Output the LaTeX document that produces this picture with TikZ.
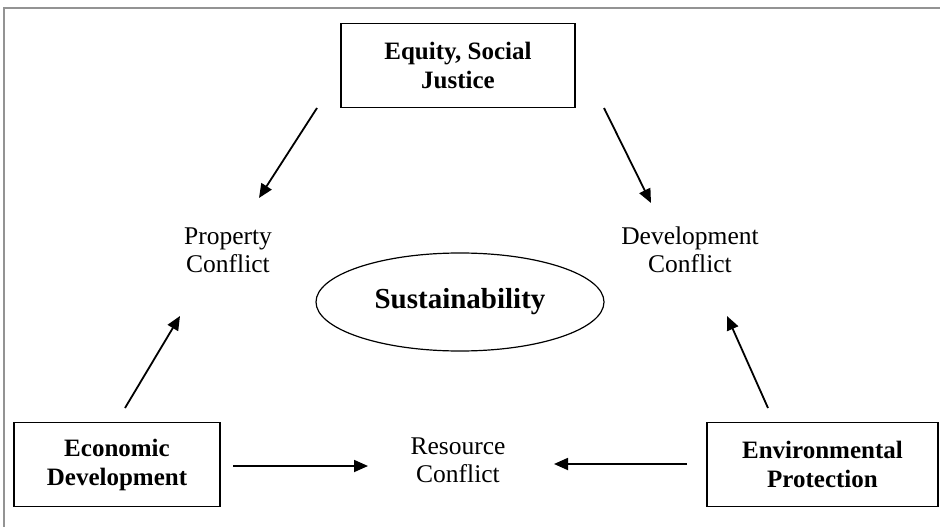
\documentclass[tikz,border=0pt]{standalone}
\usepackage{fontspec}
\setmainfont{Liberation Serif}
\usetikzlibrary{arrows.meta,shapes.geometric}
\begin{document}
\begin{tikzpicture}[x=1pt,y=1pt,
  boxnode/.style={draw=black,line width=1.4pt,minimum width=#1,minimum height=84pt,inner sep=0pt,align=center,
    font=\fontsize{25}{29}\selectfont\bfseries},
  lbl/.style={align=center,font=\fontsize{25.5}{28}\selectfont},
  arr/.style={line width=1.8pt,-{Triangle[length=14pt,width=12pt]}}]
\useasboundingbox (0,0) rectangle (940,-527);
\draw[color=gray!85,line width=2pt] (4,-527) -- (4,-8) -- (940,-8);
\node[boxnode=234pt] (eq) at (458,-65.5) {Equity, Social\\Justice};
\node[boxnode=206pt] (ec) at (117,-464.5) {Economic\\Development};
\node[boxnode=231pt] (en) at (822.5,-464.5) {Environmental\\Protection};
\node[lbl] (pc) at (228,-250) {Property\\Conflict};
\node[lbl] (dc) at (690,-250) {Development\\Conflict};
\node[lbl] (rc) at (458,-460) {Resource\\Conflict};
\node[draw=black,line width=1.2pt,ellipse,minimum width=288pt,minimum height=98pt,inner sep=0pt,
  font=\fontsize{29}{32}\selectfont\bfseries] (su) at (460,-302) {Sustainability};
\coordinate (a1s) at (317,-108); \coordinate (a1e) at (259,-198);
\coordinate (a2s) at (604,-108); \coordinate (a2e) at (651,-203);
\coordinate (a3s) at (125,-408); \coordinate (a3e) at (180,-316);
\coordinate (a4s) at (768,-408); \coordinate (a4e) at (727,-316);
\coordinate (a5s) at (233,-466); \coordinate (a5e) at (368,-466);
\coordinate (a6s) at (687,-464); \coordinate (a6e) at (554,-464);
\draw[arr] (a1s) -- (a1e);
\draw[arr] (a2s) -- (a2e);
\draw[arr] (a3s) -- (a3e);
\draw[arr] (a4s) -- (a4e);
\draw[arr] (a5s) -- (a5e);
\draw[arr] (a6s) -- (a6e);
\end{tikzpicture}
\end{document}
